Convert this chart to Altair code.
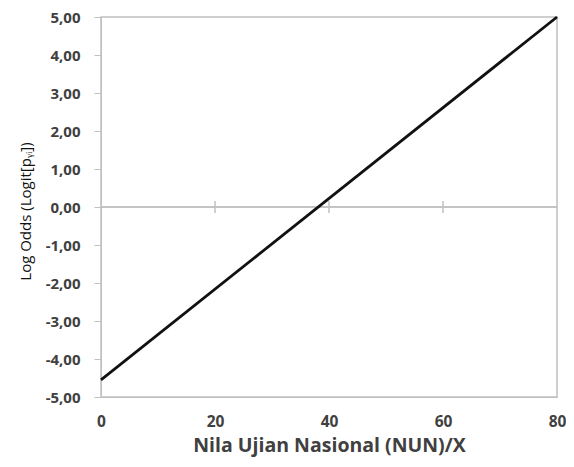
import altair as alt
import pandas as pd

# data
x_vals = [0, 80]
log_odds = [-4.55, 5.00]
x_ticks = [0, 20, 40, 60, 80]
y_ticks = [-5, -4, -3, -2, -1, 0, 1, 2, 3, 4, 5]
zero_marks = [20, 40, 60]

line_df = pd.DataFrame({"x": x_vals, "y": log_odds})
mark_df = pd.DataFrame({"x": zero_marks})

GRAY = "#c0c0c0"
TXT = "#404040"
FONT = "Open Sans"

xscale = alt.Scale(domain=[0, 80], nice=False, zero=False)
yscale = alt.Scale(domain=[-5, 5], nice=False, zero=False)

xaxis = alt.Axis(title="Nila Ujian Nasional (NUN)/X", values=x_ticks,
                 ticks=False, grid=False, labelPadding=17,
                 labelOverlap=False, labelFlush=False,
                 domainColor=GRAY, labelFont=FONT, labelFontSize=15.5,
                 labelFontWeight="bold", labelColor=TXT,
                 titleFont=FONT, titleFontSize=19.5, titleFontWeight="bold",
                 titleColor=TXT, titlePadding=7)
yaxis = alt.Axis(title="Log Odds (Logit[pᵧᵢ])", values=y_ticks,
                 labelExpr="replace(replace(format(datum.value, '.2f'), '.', ','), '\u2212', '-')",
                 labelOverlap=False, labelFlush=False,
                 tickSize=7, tickColor=GRAY, domainColor=GRAY, grid=False,
                 labelPadding=14, labelFont=FONT, labelFontSize=15,
                 labelFontWeight="bold", labelColor=TXT,
                 titleFont=FONT, titleFontSize=15, titleFontWeight="normal",
                 titleColor="#111111", titleX=-68, titleY=194,
                 titleAngle=270)

line = alt.Chart(line_df).mark_line(color="#111111", strokeWidth=2.8).encode(
    x=alt.X("x:Q", scale=xscale, axis=xaxis),
    y=alt.Y("y:Q", scale=yscale, axis=yaxis),
)

zero_line = alt.Chart(line_df).mark_rule(color=GRAY, strokeWidth=1.5).encode(
    y=alt.datum(0, scale=yscale, axis=yaxis)
)

zero_ticks = alt.Chart(mark_df).mark_rule(color=GRAY, strokeWidth=1.5).encode(
    x=alt.X("x:Q", scale=xscale, axis=xaxis),
    y=alt.datum(-0.16, scale=yscale, axis=yaxis),
    y2=alt.datum(0.16),
)

chart = alt.layer(zero_line, zero_ticks, line).properties(
    width=456, height=380,
    autosize=alt.AutoSizeParams(type="none"),
    padding={"left": 93, "top": 9, "right": 9, "bottom": 62},
    background="white",
).configure_view(stroke=GRAY, strokeWidth=1.5)

chart.save("out.html", embed_options={"renderer": "svg", "actions": False})
